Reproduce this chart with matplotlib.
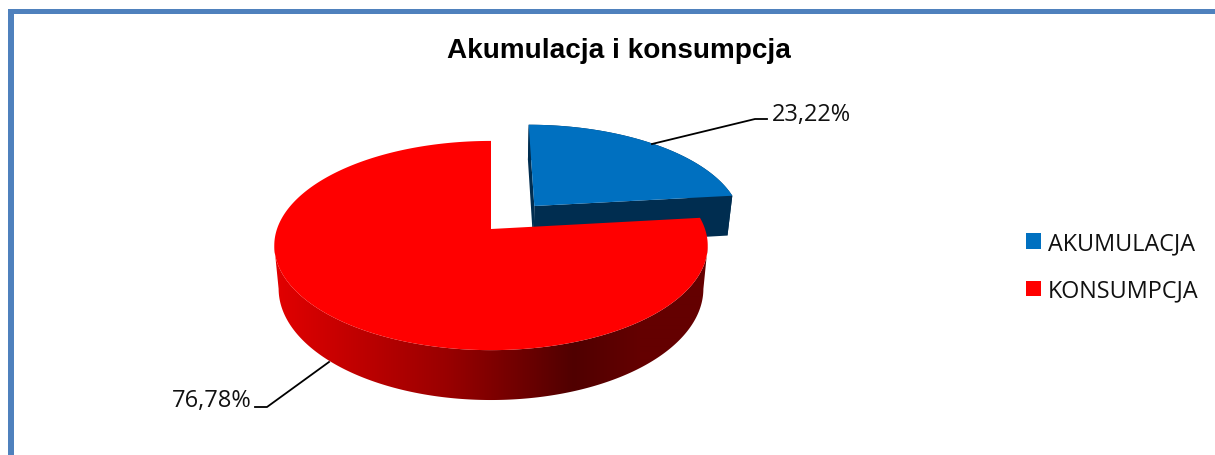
import numpy as np
import matplotlib
matplotlib.use("Agg")
import matplotlib.pyplot as plt
from matplotlib.patches import Patch, Rectangle, Polygon

title = "Akumulacja i konsumpcja"
categories = ["AKUMULACJA", "KONSUMPCJA"]
values = [23.22, 76.78]
colors = ["#0070C0", "#FF0000"]
label_font = "Open Sans"

# perspective of the pie plane, worked out from the picture (pixels)
cx, cy = 491.0, 230.0
A, B, k = 214.0, 102.0, 0.158
D = 42.0        # height of the pie
shrink = 0.98   # the lower rim is a bit narrower
dX, dY = 0.21, 0.234  # offset of the pulled out slice
blue_r = 0.985


def top(X, Y):
    w = 1 + k * Y
    return cx + A * X / w, cy - B * Y / w


def bottom(X, Y):
    w = 1 + k * Y
    u, v = top(X, Y)
    return cx + (u - cx) * shrink, v + D / w


def arc(a0, a1, n=200):
    t = np.radians(np.linspace(a0, a1, n))
    return np.sin(t), np.cos(t)


fig = plt.figure(figsize=(12.15, 4.56), dpi=100)
ax = fig.add_axes([0, 0, 1, 1])
ax.set_xlim(0, 1215)
ax.set_ylim(456, 0)
ax.axis("off")

# frame, left and top only
ax.add_patch(Rectangle((8, 10), 5.5, 446, fc="#4F81BD", ec="none"))
ax.add_patch(Rectangle((8, 10), 1207, 4.5, fc="#4F81BD", ec="none"))

split = 360 * values[0] / sum(values)

# blue slice walls
X, Y = arc(0, split)
X = X * blue_r + dX
Y = Y * blue_r + dY
ut, vt = top(X, Y)
ub, vb = bottom(X, Y)
ax.fill(np.r_[ut, ub[::-1]], np.r_[vt, vb[::-1]], color="#002D50", lw=0)
ax_, ay_ = top(dX, dY)
bx_, by_ = bottom(dX, dY)
for i in (0, -1):
    ax.fill([ax_, ut[i], ub[i], bx_], [ay_, vt[i], vb[i], by_], color="#002D50", lw=0)

# red wall, only the front part between the two side extremes
X, Y = arc(split, 360, 600)
ut, vt = top(X, Y)
ub, vb = bottom(X, Y)
i0, i1 = np.argmax(ut), np.argmin(ut)
wall = Polygon(np.c_[np.r_[ut[i0:i1 + 1], ub[i0:i1 + 1][::-1]], np.r_[vt[i0:i1 + 1], vb[i0:i1 + 1][::-1]]],
               fc="none", ec="none")
ax.add_patch(wall)
xs = np.arange(260, 720)
shade = np.interp(xs, [273, 327, 447, 573, 640], [227, 204, 153, 80, 100]) / 255
grad = np.zeros((1, len(xs), 3))
grad[0, :, 0] = shade
im = ax.imshow(grad, extent=(260, 720, 410, 140), aspect="auto", interpolation="bilinear")
im.set_clip_path(wall)
ax.set_xlim(0, 1215)
ax.set_ylim(456, 0)

# tops
X, Y = arc(split, 360, 300)
ut, vt = top(X, Y)
ax.fill(np.r_[cx, ut], np.r_[cy, vt], color=colors[1], lw=0)
X, Y = arc(0, split, 200)
ut, vt = top(X * blue_r + dX, Y * blue_r + dY)
ax.fill(np.r_[ax_, ut], np.r_[ay_, vt], color=colors[0], lw=0)

# labels with leader lines
ax.plot([652, 755, 767], [145, 120, 120], color="black", lw=1.3)
ax.plot([329, 267, 255], [363, 408, 408], color="black", lw=1.3)
ax.text(772, 115, f"{values[0]:.2f}%".replace(".", ","), family=label_font, fontsize=17,
        color="#111111", va="center", ha="left")
ax.text(252, 401, f"{values[1]:.2f}%".replace(".", ","), family=label_font, fontsize=17,
        color="#111111", va="center", ha="right")

ax.text(619, 51, title, family="Liberation Sans", fontweight="bold", fontsize=20.1,
        ha="center", va="center", color="black")

handles = [Patch(fc=c, ec="none") for c in colors]
ax.legend(handles, categories, loc="upper left", bbox_to_anchor=(1026 / 1215, 1 - 232 / 456),
          frameon=False, prop={"family": label_font, "size": 16.8}, handlelength=0.64,
          handleheight=0.64, handletextpad=0.3, labelspacing=1.02, borderpad=0, borderaxespad=0,
          labelcolor="#111111")

fig.savefig("out.png", dpi=100)
